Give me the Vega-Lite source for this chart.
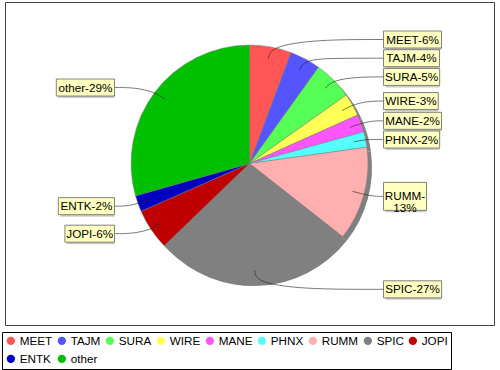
{
  "$schema": "https://vega.github.io/schema/vega-lite/v6.json",
  "width": 489,
  "height": 323,
  "autosize": {"type": "none"},
  "padding": {"left": 5, "top": 2, "right": 6, "bottom": 45},
  "background": "#ffffff",
  "data": {
    "values": [
      {"order": 1, "name": "MEET", "value": 5.7, "label": "MEET-6%"},
      {"order": 2, "name": "TAJM", "value": 4.2, "label": "TAJM-4%"},
      {"order": 3, "name": "SURA", "value": 5.3, "label": "SURA-5%"},
      {"order": 4, "name": "WIRE", "value": 3.1, "label": "WIRE-3%"},
      {"order": 5, "name": "MANE", "value": 2.4, "label": "MANE-2%"},
      {"order": 6, "name": "PHNX", "value": 2.1, "label": "PHNX-2%"},
      {"order": 7, "name": "RUMM", "value": 12.8, "label": "RUMM-\n13%"},
      {"order": 8, "name": "SPIC", "value": 27.2, "label": "SPIC-27%"},
      {"order": 9, "name": "JOPI", "value": 5.6, "label": "JOPI-6%"},
      {"order": 10, "name": "ENTK", "value": 2.2, "label": "ENTK-2%"},
      {"order": 11, "name": "other", "value": 29.4, "label": "other-29%"}
    ]
  },
  "transform": [
    {"joinaggregate": [{"op": "sum", "field": "value", "as": "total"}]},
    {"window": [{"op": "sum", "field": "value", "as": "cum"}], "sort": [{"field": "order", "order": "ascending"}], "frame": [null, 0]},
    {"calculate": "2*PI*(datum.cum - datum.value/2)/datum.total", "as": "mid"},
    {"calculate": "sin(datum.mid) >= 0 ? 1 : -1", "as": "side"},
    {"calculate": "126*cos(datum.mid)", "as": "ay"},
    {"window": [{"op": "row_number", "as": "rk"}], "groupby": ["side"], "sort": [{"field": "ay", "order": "descending"}]},
    {"calculate": "datum.ay + 18.7*datum.rk", "as": "t"},
    {"window": [{"op": "min", "field": "t", "as": "tmin"}], "groupby": ["side"], "sort": [{"field": "ay", "order": "descending"}], "frame": [null, 0]},
    {"calculate": "datum.tmin - 18.7*datum.rk", "as": "ly"},
    {"calculate": "indexof(datum.label, '\\n') >= 0 ? 2 : 1", "as": "nl"},
    {"calculate": "indexof(datum.label, '\\n') >= 0 ? substring(datum.label, 0, indexof(datum.label, '\\n')) : datum.label", "as": "l1"},
    {"calculate": "11.7*(0.67*length(replace(datum.l1, regexp('[^A-Z]','g'), '')) + 0.16*length(replace(datum.l1, regexp('[^M]','g'), '')) + 0.27*length(replace(datum.l1, regexp('[^W]','g'), '')) - 0.39*length(replace(datum.l1, regexp('[^I]','g'), '')) - 0.17*length(replace(datum.l1, regexp('[^J]','g'), '')) + 0.46*length(replace(datum.l1, regexp('[^a-z]','g'), '')) + 0.556*length(replace(datum.l1, regexp('[^0-9]','g'), '')) + 0.333*length(replace(datum.l1, regexp('[^-]','g'), '')) + 0.889*length(replace(datum.l1, regexp('[^%]','g'), ''))) + 4", "as": "bw"},
    {"calculate": "datum.side > 0 ? 134 : -135 - datum.bw", "as": "bx1"},
    {"calculate": "datum.bx1 + datum.bw", "as": "bx2"},
    {"calculate": "(datum.bx1 + datum.bx2)/2", "as": "bxc"},
    {"calculate": "6 + 11*datum.nl", "as": "bh"},
    {"calculate": "datum.ly - datum.bh/2", "as": "by1"},
    {"calculate": "datum.ly + datum.bh/2", "as": "by2"}
  ],
  "layer": [
    {
      "mark": {"type": "arc", "radius": 118.5, "fill": "#808080", "x": {"expr": "width/2 + 4"}, "y": {"expr": "height/2 + 4"}},
      "encoding": {
        "theta": {"field": "value", "type": "quantitative", "stack": true},
        "order": {"field": "order", "type": "quantitative"}
      }
    },
    {
      "mark": {"type": "arc", "radius": 118.5, "stroke": "#808080", "strokeWidth": 0.5},
      "encoding": {
        "theta": {"field": "value", "type": "quantitative", "stack": true},
        "order": {"field": "order", "type": "quantitative"},
        "color": {
          "field": "name", "type": "nominal",
          "scale": {
            "domain": ["MEET", "TAJM", "SURA", "WIRE", "MANE", "PHNX", "RUMM", "SPIC", "JOPI", "ENTK", "other"],
            "range": ["#FF5555", "#5555FF", "#55FF55", "#FFFF55", "#FF55FF", "#55FFFF", "#FFAFAF", "#808080", "#C00000", "#0000C0", "#00C000"]
          },
          "legend": {
            "title": null, "orient": "none", "legendX": -3, "legendY": 330,
            "direction": "horizontal", "columns": 9, "gridAlign": "none",
            "symbolType": "circle", "symbolSize": 70, "symbolStrokeWidth": 0,
            "labelFont": "Liberation Sans", "labelFontSize": 11.7, "labelColor": "#000000",
            "labelOffset": 3, "columnPadding": 3, "rowPadding": 5, "padding": 3,
            "strokeColor": "#000000", "fillColor": "#ffffff"
          }
        }
      }
    },
    {
      "transform": [
        {"calculate": "abs(118.5*sin(datum.mid))", "as": "ex"},
        {"calculate": "[106.6*sin(datum.mid), 118.5*sin(datum.mid), datum.side*(datum.ex + min(45, (134.5 - datum.ex)*0.5)), datum.side*134.5]", "as": "pxs"},
        {"calculate": "[106.6*cos(datum.mid), 118.5*cos(datum.mid), datum.ly, datum.ly]", "as": "pys"},
        {"calculate": "[0, 1, 2, 3]", "as": "idx"},
        {"flatten": ["pxs", "pys", "idx"]}
      ],
      "mark": {"type": "line", "interpolate": "basis", "stroke": "#222222", "strokeWidth": 0.6},
      "encoding": {
        "x": {"field": "pxs", "type": "quantitative", "axis": null, "scale": {"domain": [-244.5, 244.5], "nice": false, "zero": false}},
        "y": {"field": "pys", "type": "quantitative", "axis": null, "scale": {"domain": [-161.5, 161.5], "nice": false, "zero": false}},
        "detail": {"field": "name"},
        "order": {"field": "idx", "type": "quantitative"}
      }
    },
    {
      "mark": {"type": "rect", "fill": "#979797", "fillOpacity": 0.5, "xOffset": 2, "yOffset": 2},
      "encoding": {
        "x": {"field": "bx1", "type": "quantitative", "axis": null, "scale": {"domain": [-244.5, 244.5], "nice": false, "zero": false}},
        "x2": {"field": "bx2"},
        "y": {"field": "by1", "type": "quantitative", "axis": null, "scale": {"domain": [-161.5, 161.5], "nice": false, "zero": false}},
        "y2": {"field": "by2"}
      }
    },
    {
      "mark": {"type": "rect", "fill": "#FFFFC0", "stroke": "#666666", "strokeWidth": 0.8},
      "encoding": {
        "x": {"field": "bx1", "type": "quantitative", "axis": null, "scale": {"domain": [-244.5, 244.5], "nice": false, "zero": false}},
        "x2": {"field": "bx2"},
        "y": {"field": "by1", "type": "quantitative", "axis": null, "scale": {"domain": [-161.5, 161.5], "nice": false, "zero": false}},
        "y2": {"field": "by2"}
      }
    },
    {
      "mark": {"type": "text", "align": "center", "baseline": "middle", "lineBreak": "\n", "lineHeight": 12, "font": "Liberation Sans", "fontSize": 11.7, "fill": "#000000"},
      "encoding": {
        "x": {"field": "bxc", "type": "quantitative", "axis": null, "scale": {"domain": [-244.5, 244.5], "nice": false, "zero": false}},
        "y": {"field": "ly", "type": "quantitative", "axis": null, "scale": {"domain": [-161.5, 161.5], "nice": false, "zero": false}},
        "text": {"field": "label"}
      }
    }
  ],
  "config": {
    "view": {"stroke": "#444444", "strokeWidth": 1}
  }
}
